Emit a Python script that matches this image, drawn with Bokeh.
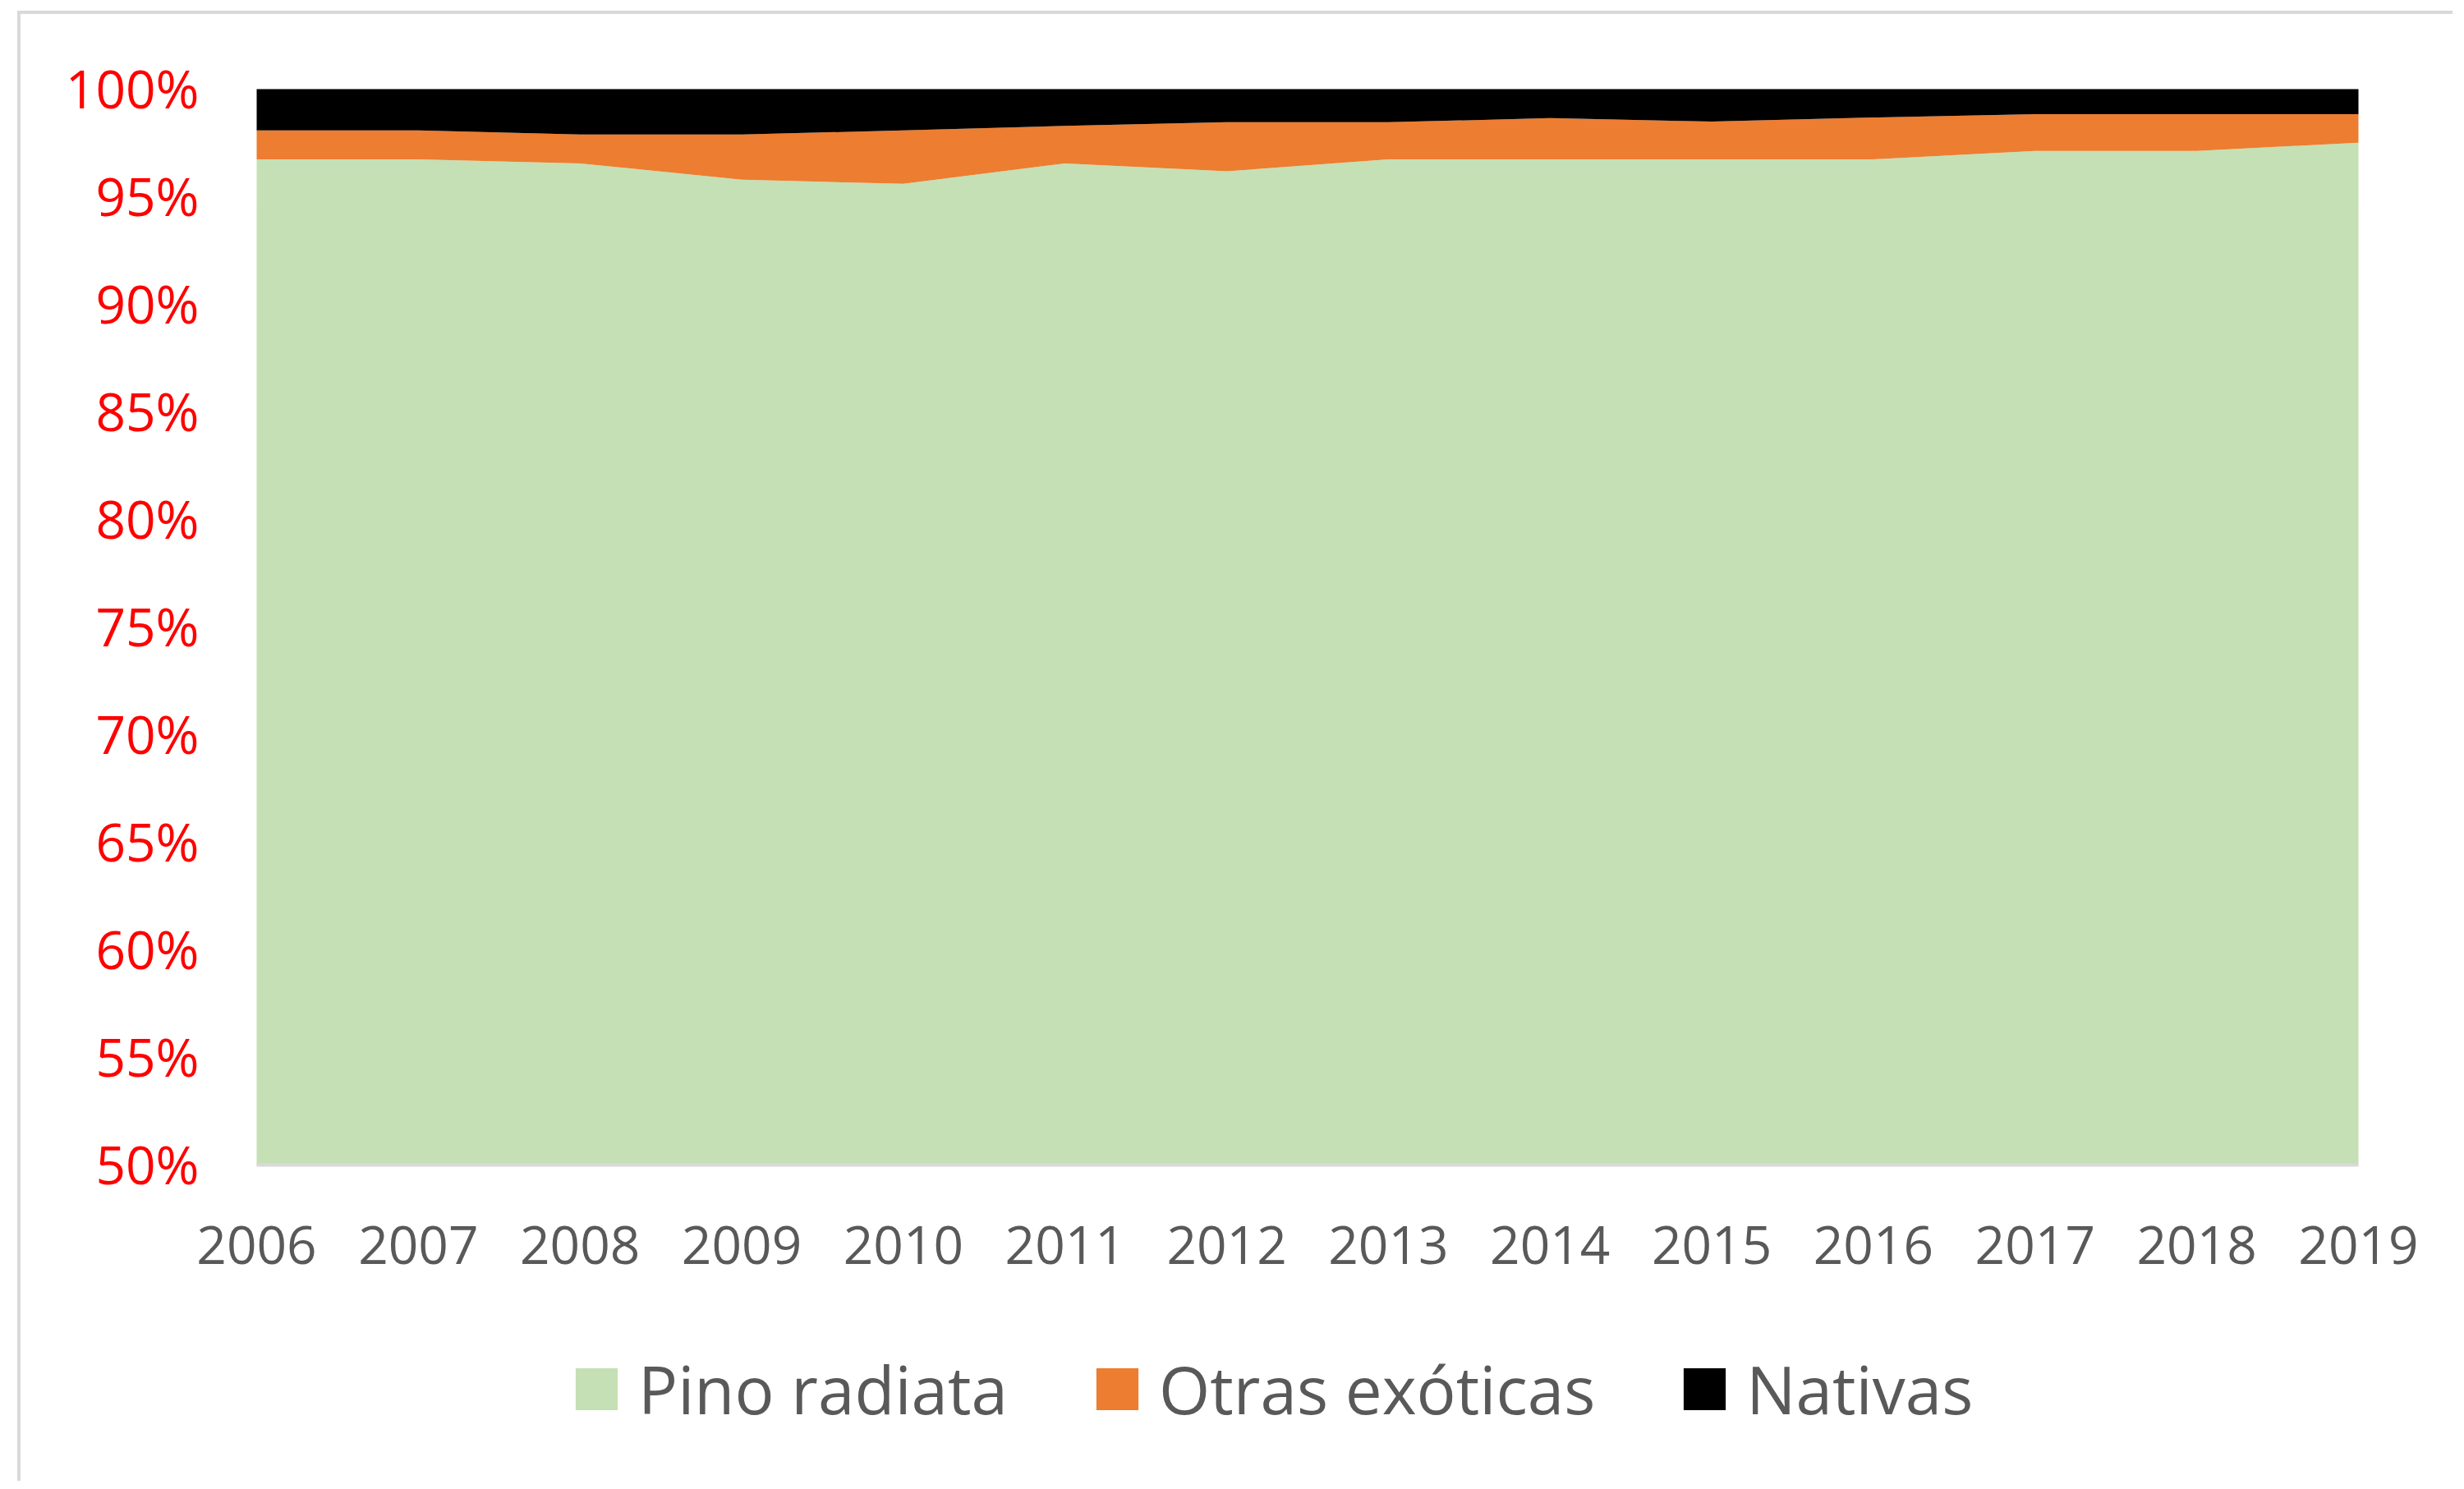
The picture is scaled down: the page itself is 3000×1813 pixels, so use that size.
from bokeh.plotting import figure
from bokeh.models import Range1d, Legend, LegendItem, ColumnDataSource
from bokeh.core.properties import value
from bokeh.embed import file_html
from bokeh.resources import INLINE

# ---- data (percent of total) ----
years = [2006, 2007, 2008, 2009, 2010, 2011, 2012, 2013, 2014, 2015, 2016, 2017, 2018, 2019]
pino_radiata = [96.74, 96.74, 96.55, 95.79, 95.60, 96.55, 96.18, 96.74, 96.74, 96.74, 96.74, 97.13, 97.13, 97.51]
otras_exoticas = [1.34, 1.34, 1.34, 2.10, 2.48, 1.74, 2.28, 1.72, 1.91, 1.75, 1.94, 1.71, 1.71, 1.33]
nativas = [1.92, 1.92, 2.11, 2.11, 1.92, 1.71, 1.54, 1.54, 1.35, 1.51, 1.32, 1.16, 1.16, 1.16]
series_names = ["Pino radiata", "Otras exóticas", "Nativas"]
series_colors = ["#c5e0b4", "#ed7d31", "#000000"]
y_ticks = [50, 55, 60, 65, 70, 75, 80, 85, 90, 95, 100]
y_tick_labels = ["50%", "55%", "60%", "65%", "70%", "75%", "80%", "85%", "90%", "95%", "100%"]
x_tick_labels = ["2006", "2007", "2008", "2009", "2010", "2011", "2012", "2013", "2014", "2015",
                 "2016", "2017", "2018", "2019"]

FONT = "Open Sans"

# ---- layout (screen pixels) ----
W, H = 2965, 1790            # canvas size
CANVAS_X0, CANVAS_Y0 = 25, 17  # canvas offset on page (margin + border)
PLOT_L, PLOT_R, PLOT_T, PLOT_B = 312, 2871, 108, 1418   # plot area on page
px_per_x = (PLOT_R - PLOT_L) / (years[-1] - years[0])
px_per_y = (PLOT_B - PLOT_T) / (y_ticks[-1] - y_ticks[0])
x_start = years[0] - (PLOT_L - CANVAS_X0) / px_per_x
x_end = years[-1] + (CANVAS_X0 + W - PLOT_R) / px_per_x
y_end = y_ticks[-1] + (PLOT_T - CANVAS_Y0) / px_per_y
y_start = y_ticks[0] - (CANVAS_Y0 + H - PLOT_B) / px_per_y

n = len(years)
floor = [y_ticks[0]] * n
top_pino = pino_radiata
top_otras = [a + b for a, b in zip(pino_radiata, otras_exoticas)]
top_nat = [a + b for a, b in zip(top_otras, nativas)]
source = ColumnDataSource(dict(year=years, floor=floor, pino=top_pino, otras=top_otras, nat=top_nat))

p = figure(width=W, height=H, output_backend="svg", toolbar_location=None,
           x_range=Range1d(x_start, x_end), y_range=Range1d(y_start, y_end),
           x_axis_location=None, y_axis_location=None, min_border=0)
p.styles = {"border-left": "4px solid #d9d9d9", "border-top": "4px solid #d9d9d9",
            "margin-left": "21px", "margin-top": "13px"}
p.grid.visible = False
p.outline_line_color = None
p.background_fill_color = "white"
p.border_fill_color = "white"

r1 = p.varea(x="year", y1="floor", y2="pino", color=series_colors[0], source=source)
r2 = p.varea(x="year", y1="pino", y2="otras", color=series_colors[1], source=source)
r3 = p.varea(x="year", y1="otras", y2="nat", color=series_colors[2], source=source)

# x axis line
p.segment(x0=[years[0]], y0=[y_ticks[0]], x1=[years[-1]], y1=[y_ticks[0]],
          line_color="#d9d9d9", line_width=4)

# x tick labels
p.text(x=years, y=floor, text=x_tick_labels, text_align="center", text_baseline="middle",
       y_offset=97, text_font=value(FONT), text_font_size="64px", text_color="#595959")

# y tick labels
p.text(x=[years[0]] * len(y_ticks), y=y_ticks, text=y_tick_labels, text_align="right",
       text_baseline="middle", x_offset=-70, y_offset=-1,
       text_font=value(FONT), text_font_size="64px", text_color="#ff0000")

legend = Legend(
    items=[LegendItem(label=nm, renderers=[r]) for nm, r in zip(series_names, [r1, r2, r3])],
    location=(669, 62), orientation="horizontal",
    glyph_width=64, glyph_height=64, label_standoff=19, spacing=101,
    padding=0, margin=0, border_line_alpha=0, background_fill_alpha=0,
    label_text_font=FONT, label_text_font_size="80px", label_text_color="#595959",
)
p.add_layout(legend)

open("out.html", "w").write(file_html(p, INLINE))
